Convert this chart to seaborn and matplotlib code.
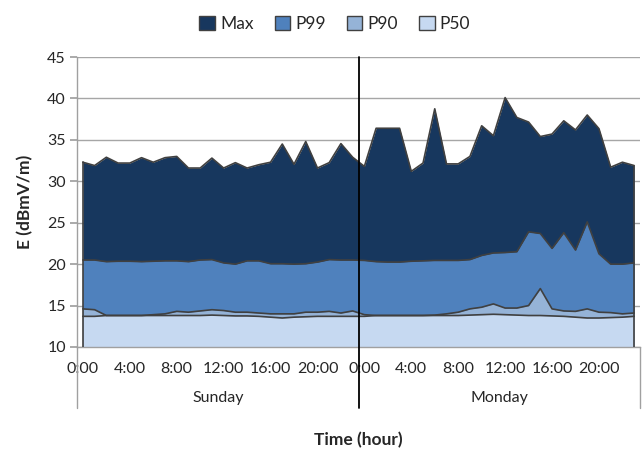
import numpy as np
import pandas as pd
import seaborn as sns
import matplotlib.pyplot as plt
from matplotlib.patches import Patch
from matplotlib.transforms import blended_transform_factory

# --- DATA (hourly, Sunday 0:00 .. Monday 23:00) ---
days = ['Sunday', 'Monday']
hour_labels = ['0:00', '4:00', '8:00', '12:00', '16:00', '20:00']

max_vals = [32.3, 31.9, 32.9, 32.2, 32.2, 32.85, 32.3, 32.85, 33.0, 31.6, 31.6, 32.8,
            31.6, 32.25, 31.6, 32.0, 32.3, 34.5, 32.05, 34.8, 31.6, 32.25, 34.55, 32.9,
            31.8, 36.4, 36.4, 36.4, 31.2, 32.2, 38.75, 32.1, 32.1, 33.0, 36.7, 35.5,
            40.1, 37.7, 37.15, 35.4, 35.7, 37.3, 36.2, 38.0, 36.35, 31.7, 32.3, 31.9]
p99_vals = [20.5, 20.5, 20.3, 20.35, 20.35, 20.3, 20.35, 20.4, 20.4, 20.3, 20.5, 20.55,
            20.15, 20.0, 20.4, 20.4, 20.05, 20.05, 20.0, 20.05, 20.25, 20.55, 20.5, 20.5,
            20.45, 20.3, 20.25, 20.25, 20.35, 20.4, 20.45, 20.45, 20.45, 20.55, 21.05, 21.35,
            21.4, 21.5, 23.9, 23.7, 21.9, 23.8, 21.7, 25.1, 21.25, 20.0, 20.0, 20.15]
p90_vals = [14.6, 14.5, 13.8, 13.8, 13.8, 13.8, 13.9, 14.0, 14.3, 14.2, 14.35, 14.5,
            14.4, 14.2, 14.2, 14.1, 14.0, 14.0, 14.0, 14.2, 14.2, 14.3, 14.1, 14.35,
            13.9, 13.8, 13.8, 13.8, 13.8, 13.8, 13.85, 14.0, 14.2, 14.6, 14.8, 15.2,
            14.7, 14.7, 15.0, 17.05, 14.6, 14.35, 14.3, 14.6, 14.2, 14.15, 14.0, 14.1]
p50_vals = [13.7, 13.7, 13.8, 13.8, 13.8, 13.8, 13.8, 13.8, 13.8, 13.8, 13.8, 13.85,
            13.8, 13.75, 13.75, 13.7, 13.6, 13.5, 13.6, 13.65, 13.7, 13.7, 13.7, 13.7,
            13.7, 13.8, 13.8, 13.8, 13.8, 13.8, 13.8, 13.8, 13.8, 13.85, 13.9, 13.95,
            13.9, 13.85, 13.8, 13.8, 13.75, 13.7, 13.6, 13.5, 13.5, 13.55, 13.6, 13.7]

series = ['Max', 'P99', 'P90', 'P50']
colors = ['#17375E', '#4F81BD', '#95B3D7', '#C6D9F1']

df = pd.DataFrame({'hour': np.arange(len(max_vals)), 'Max': max_vals,
                   'P99': p99_vals, 'P90': p90_vals, 'P50': p50_vals})
long = df.melt(id_vars='hour', var_name='Series', value_name='E')

sns.set_theme(style="white")
plt.rcParams['font.family'] = ['Lato', 'DejaVu Sans']

fig = plt.figure(figsize=(6.44, 4.5), dpi=100)
ax = fig.add_axes([0.1196, 0.2289, 0.8742, 0.6444])

# --- AREAS (overlapping, drawn biggest first) ---
for s, c in zip(series, colors):
    ax.fill_between(df['hour'], 10, df[s], color=c, lw=0, zorder=2)
sns.lineplot(data=long, x='hour', y='E', hue='Series', hue_order=series,
             palette=['#404040'] * 4, lw=1.2, legend=False, ax=ax, zorder=3)
for x in [df['hour'].iloc[0], df['hour'].iloc[-1]]:
    ax.plot([x, x], [10, df.loc[df['hour'] == x, 'Max'].iloc[0]], color='#404040', lw=1.2, zorder=3)

ax.set_xlim(-0.5, len(max_vals) - 0.5)
ax.set_ylim(10, 45)
ax.set_yticks(range(10, 46, 5))
ax.yaxis.grid(True, color='#A6A6A6', lw=1)
ax.set_axisbelow(True)
for sp in ['top', 'right']:
    ax.spines[sp].set_visible(False)
for sp in ['left', 'bottom']:
    ax.spines[sp].set_color('#A0A0A0')
    ax.spines[sp].set_linewidth(1)
ax.tick_params(axis='y', length=5, color='#A0A0A0', labelsize=11.5, pad=3, left=True)
ax.tick_params(axis='x', length=0, labelsize=11.5, pad=11)

ticks = [d * 24 + h for d in range(len(days)) for h in range(0, 24, 4)]
ax.set_xticks(ticks)
ax.set_xticklabels(hour_labels * len(days))

# day labels and separators of the two-level axis
trans = blended_transform_factory(ax.transData, ax.transAxes)
for i, d in enumerate(days):
    ax.text(i * 24 + 11.5, -0.175, d, transform=trans, ha='center', va='center', fontsize=11.5)
for x in [-0.5, len(max_vals) - 0.5]:
    ax.plot([x, x], [0, -0.21], transform=trans, color='#A0A0A0', lw=1, clip_on=False)
ax.plot([23.5, 23.5], [1, -0.21], transform=trans, color='black', lw=1.3, clip_on=False, zorder=5)

ax.set_xlabel('Time (hour)', fontsize=12.5, fontweight='bold', labelpad=40)
ax.set_ylabel('E (dBmV/m)', fontsize=12.5, fontweight='bold', labelpad=10)

handles = [Patch(facecolor=c, edgecolor='#404040', lw=1) for c in colors]
fig.legend(handles, series, loc='upper center', bbox_to_anchor=(0.52, 1.0), ncol=4,
           frameon=False, fontsize=12.5, handlelength=0.9, handleheight=0.9,
           handletextpad=0.3, columnspacing=1.2)

plt.savefig('out.png', dpi=100)
